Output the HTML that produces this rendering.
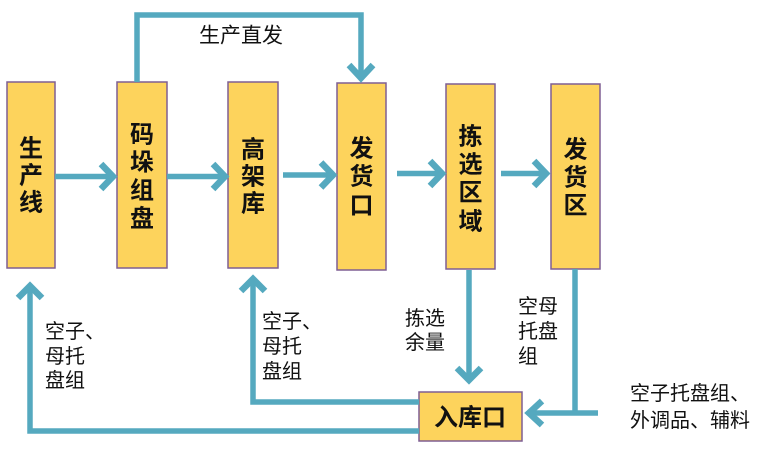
<!DOCTYPE html>
<html><head><meta charset="utf-8"><style>
html,body{margin:0;padding:0;background:#fff;}
svg{display:block;}
.b{fill:#fdd35c;stroke:#7e5f93;stroke-width:1.5;}
.l{fill:none;stroke:#55a9bf;stroke-width:5.5;stroke-linejoin:miter;}
.h{fill:none;stroke:#55a9bf;stroke-width:6.5;stroke-linejoin:miter;stroke-linecap:butt;}
.t{font-family:"Liberation Sans","Noto Sans CJK SC",sans-serif;font-size:24px;font-weight:bold;fill:#111;text-anchor:middle;dominant-baseline:central;}
.s{font-family:"Liberation Sans","Noto Sans CJK SC",sans-serif;font-size:20px;fill:#111;dominant-baseline:central;}
</style></head><body>
<svg width="768" height="452" viewBox="0 0 768 452" xmlns="http://www.w3.org/2000/svg">
<!-- boxes -->
<rect class="b" x="7" y="82" width="48" height="186"/>
<rect class="b" x="117" y="82" width="50" height="186"/>
<rect class="b" x="228" y="82" width="50" height="186"/>
<rect class="b" x="337" y="83" width="49" height="187"/>
<rect class="b" x="446" y="84" width="49" height="185"/>
<rect class="b" x="551" y="84" width="49" height="185"/>
<rect class="b" x="419" y="392" width="103" height="49"/>

<!-- box text -->
<text class="t" x="31" y="149">生</text><text class="t" x="31" y="176">产</text><text class="t" x="31" y="203">线</text>
<text class="t" x="142" y="135">码</text><text class="t" x="142" y="163">垛</text><text class="t" x="142" y="191">组</text><text class="t" x="142" y="219">盘</text>
<text class="t" x="253" y="150">高</text><text class="t" x="253" y="177">架</text><text class="t" x="253" y="204">库</text>
<text class="t" x="361.5" y="149">发</text><text class="t" x="361.5" y="177">货</text><text class="t" x="361.5" y="206">口</text>
<text class="t" x="470.5" y="137">拣</text><text class="t" x="470.5" y="165">选</text><text class="t" x="470.5" y="193">区</text><text class="t" x="470.5" y="222">域</text>
<text class="t" x="575.5" y="150">发</text><text class="t" x="575.5" y="178">货</text><text class="t" x="575.5" y="206">区</text>
<text class="t" x="470" y="418">入库口</text>

<!-- top connector -->
<path class="l" d="M137,82 V15 H361 V76"/>
<polyline class="h" points="349,65 361,78 373,65"/>
<text class="s" x="199" y="36" style="font-size:21px">生产直发</text>

<!-- horizontal arrows -->
<path class="l" d="M55,176.5 H111"/><polyline class="h" points="101,164 113,176.5 101,189"/>
<path class="l" d="M167,176.5 H223"/><polyline class="h" points="213,164 225,176.5 213,189"/>
<path class="l" d="M283,175 H331"/><polyline class="h" points="321,162.5 333,175 321,187.5"/>
<path class="l" d="M397,173.5 H440"/><polyline class="h" points="430,161 442,173.5 430,186"/>
<path class="l" d="M501,173.5 H544"/><polyline class="h" points="534,161 546,173.5 534,186"/>

<!-- down arrow 拣选余量 -->
<path class="l" d="M469,270 V378"/><polyline class="h" points="457,368 469,380 481,368"/>
<text class="s" x="405" y="319">拣选</text><text class="s" x="405" y="343">余量</text>

<!-- 发货区 down and left into 入库口 -->
<path class="l" d="M575,269 V413"/>
<path class="l" d="M598,413 H532"/><polyline class="h" points="542,401 529,413 542,425"/>
<text class="s" x="518" y="307">空母</text><text class="s" x="518" y="332">托盘</text><text class="s" x="518" y="357">组</text>
<text class="s" x="630" y="394">空子托盘组、</text><text class="s" x="630" y="421">外调品、辅料</text>

<!-- return arrows -->
<path class="l" d="M419,402 H253 V282"/><polyline class="h" points="241,291 253,279 265,291"/>
<path class="l" d="M419,431 H30 V289"/><polyline class="h" points="18,298 30,286 42,298"/>
<text class="s" x="45" y="332">空子、</text><text class="s" x="45" y="357">母托</text><text class="s" x="45" y="381">盘组</text>
<text class="s" x="262" y="322">空子、</text><text class="s" x="262" y="347">母托</text><text class="s" x="262" y="372">盘组</text>
</svg>
</body></html>
